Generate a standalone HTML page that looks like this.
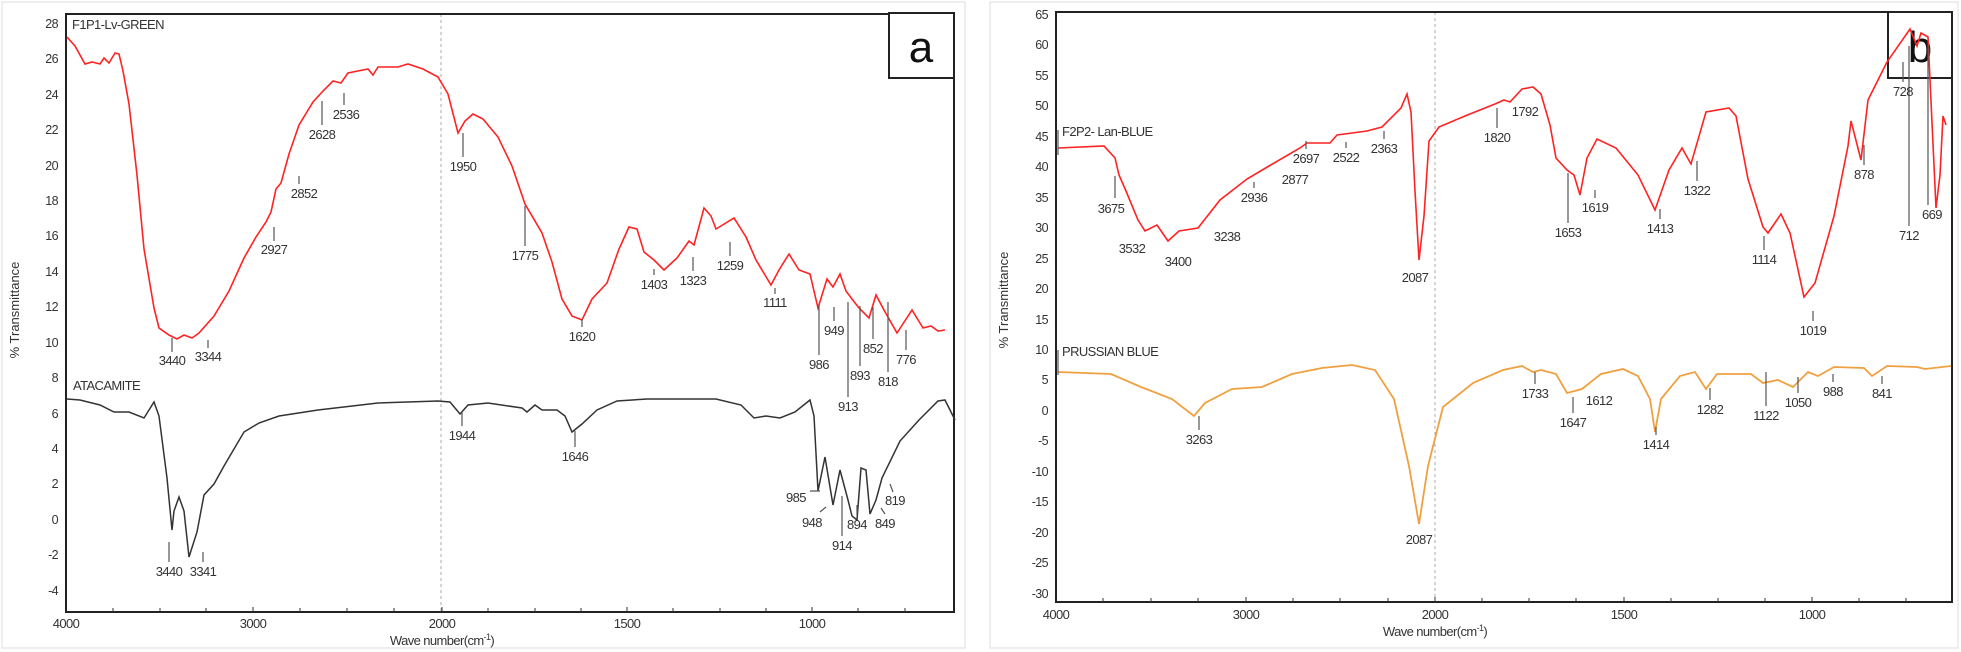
<!DOCTYPE html>
<html><head><meta charset="utf-8"><style>
html,body{margin:0;padding:0;background:#fff;}
svg{display:block;}
text{font-family:"Liberation Sans",sans-serif;fill:#333;}
.t{font-size:13px;letter-spacing:-0.6px;}
.k{font-size:12.5px;letter-spacing:-0.6px;text-anchor:end;}
.l{stroke:#555;stroke-width:1.2;fill:none;}
</style></head><body>
<svg width="1961" height="652" viewBox="0 0 1961 652" xmlns="http://www.w3.org/2000/svg">
<rect x="2" y="2" width="963" height="646" fill="none" stroke="#ddd"/>
<rect x="990" y="2" width="968" height="646" fill="none" stroke="#ddd"/>
<!-- Panel a -->
<line x1="441" y1="14" x2="441" y2="611" stroke="#aaa" stroke-dasharray="3,3"/>
<rect x="66" y="14" width="888" height="598" fill="none" stroke="#222" stroke-width="2"/>
<rect x="889" y="13" width="65" height="65" fill="#fff" stroke="#222" stroke-width="2"/>
<text x="921" y="62" style="font-size:44px;text-anchor:middle;fill:#111">a</text>
<g class="k">
<text x="58" y="28">28</text><text x="58" y="63">26</text><text x="58" y="99">24</text><text x="58" y="134">22</text><text x="58" y="170">20</text><text x="58" y="205">18</text><text x="58" y="240">16</text><text x="58" y="276">14</text><text x="58" y="311">12</text><text x="58" y="347">10</text><text x="58" y="382">8</text><text x="58" y="418">6</text><text x="58" y="453">4</text><text x="58" y="488">2</text><text x="58" y="524">0</text><text x="58" y="559">-2</text><text x="58" y="595">-4</text>
</g>
<text transform="translate(19,310) rotate(-90)" style="font-size:13px;text-anchor:middle">% Transmittance</text>
<g style="font-size:13px;text-anchor:middle;letter-spacing:-0.6px">
<text x="66" y="628">4000</text><text x="253" y="628">3000</text><text x="442" y="628">2000</text><text x="627" y="628">1500</text><text x="812" y="628">1000</text>
<text x="442" y="645">Wave number(cm<tspan dy="-5" font-size="9">-1</tspan><tspan dy="5">)</tspan></text>
</g>
<g stroke="#333">
<path d="M113,612v-4M160,612v-4M206,612v-4M253,612v-5M300,612v-4M347,612v-4M394,612v-4M442,612v-5M488,612v-4M535,612v-4M581,612v-4M627,612v-5M673,612v-4M720,612v-4M766,612v-4M812,612v-5M858,612v-4M905,612v-4"/>
</g>
<text class="t" x="72" y="29">F1P1-Lv-GREEN</text>
<text class="t" x="73" y="390">ATACAMITE</text>
<polyline fill="none" stroke="#f22" stroke-width="1.6" points="67,37 75,46 85,64 92,62 100,64 104,58 109,63 115,53 119,54 123,71 129,104 137,175 144,249 154,308 159,328 169,335 177,339 184,335 192,338 199,333 214,316 229,291 244,258 256,237 266,222 271,212 276,189 281,183 289,154 299,125 313,102 323,91 333,81 341,83 348,73 368,69 373,75 378,67 398,67 408,64 423,69 438,77 448,94 458,133 465,121 473,114 483,119 498,137 512,166 525,204 542,233 552,262 562,299 572,316 582,320 592,299 607,283 619,249 629,227 637,229 644,252 654,260 664,270 677,258 689,241 694,245 704,208 711,216 716,229 734,218 746,237 756,260 771,285 779,270 789,254 799,270 810,274 818,308 827,279 833,287 840,274 846,291 852,299 859,308 869,318 876,295 884,310 897,333 912,310 923,328 931,326 938,331 945,330"/>
<polyline fill="none" stroke="#333" stroke-width="1.5" points="67,399 80,400 100,405 114,412 129,412 144,418 149,410 154,402 159,416 167,478 172,530 174,511 179,497 184,511 189,557 197,532 204,495 214,484 224,466 244,432 259,423 279,416 318,410 378,403 438,401 450,402 460,414 468,405 488,403 522,408 527,412 535,405 542,410 557,410 565,416 572,432 582,424 597,410 617,401 647,399 716,399 741,405 754,418 766,416 780,418 795,412 810,400 814,416 818,491 825,457 833,505 840,470 848,500 852,516 857,520 861,468 866,470 870,514 876,500 882,478 900,441 919,420 938,401 945,400 955,420"/>
<g class="l">
<path d="M172,352v-14M208,348v-8M274,241v-14M299,184v-8M322,125v-24M344,105v-12M463,157v-24M525,246v-40M582,327v-8M654,275v-6M693,271v-14M730,256v-14M775,294v-6M819,355v-50M834,321v-14M860,366v-60M848,397v-95M873,339v-32M888,372v-70M906,350v-20M169,562v-20M203,562v-10M462,426v-14M575,447v-16M810,491h10M820,512l6,-5M842,536v-40M857,515v-10M885,514l-4,-6M893,492l-3,-8"/>
</g>
<g class="t" style="text-anchor:middle">
<text x="172" y="365">3440</text><text x="208" y="361">3344</text><text x="274" y="254">2927</text><text x="304" y="198">2852</text><text x="322" y="139">2628</text><text x="346" y="119">2536</text><text x="463" y="171">1950</text><text x="525" y="260">1775</text><text x="582" y="341">1620</text><text x="654" y="289">1403</text><text x="693" y="285">1323</text><text x="730" y="270">1259</text><text x="775" y="307">1111</text>
<text x="819" y="369">986</text><text x="834" y="335">949</text><text x="860" y="380">893</text><text x="848" y="411">913</text><text x="873" y="353">852</text><text x="888" y="386">818</text><text x="906" y="364">776</text>
<text x="169" y="576">3440</text><text x="203" y="576">3341</text><text x="462" y="440">1944</text><text x="575" y="461">1646</text>
<text x="796" y="502">985</text><text x="812" y="527">948</text><text x="842" y="550">914</text><text x="857" y="529">894</text><text x="885" y="528">849</text><text x="895" y="505">819</text>
</g>

<!-- Panel b -->
<line x1="1435" y1="12" x2="1435" y2="601" stroke="#aaa" stroke-dasharray="3,3"/>
<rect x="1056" y="12" width="896" height="590" fill="none" stroke="#222" stroke-width="2"/>
<rect x="1888" y="12" width="64" height="66" fill="none" stroke="#222" stroke-width="2"/>
<text x="1920" y="62" style="font-size:44px;text-anchor:middle;fill:#111">b</text>
<g class="k">
<text x="1048" y="19">65</text><text x="1048" y="49">60</text><text x="1048" y="80">55</text><text x="1048" y="110">50</text><text x="1048" y="141">45</text><text x="1048" y="171">40</text><text x="1048" y="202">35</text><text x="1048" y="232">30</text><text x="1048" y="263">25</text><text x="1048" y="293">20</text><text x="1048" y="324">15</text><text x="1048" y="354">10</text><text x="1048" y="384">5</text><text x="1048" y="415">0</text><text x="1048" y="445">-5</text><text x="1048" y="476">-10</text><text x="1048" y="506">-15</text><text x="1048" y="537">-20</text><text x="1048" y="567">-25</text><text x="1048" y="598">-30</text>
</g>
<text transform="translate(1008,300) rotate(-90)" style="font-size:13px;text-anchor:middle">% Transmittance</text>
<g style="font-size:13px;text-anchor:middle;letter-spacing:-0.6px">
<text x="1056" y="619">4000</text><text x="1246" y="619">3000</text><text x="1435" y="619">2000</text><text x="1624" y="619">1500</text><text x="1812" y="619">1000</text>
<text x="1435" y="636">Wave number(cm<tspan dy="-5" font-size="9">-1</tspan><tspan dy="5">)</tspan></text>
</g>
<g stroke="#333">
<path d="M1103,602v-4M1151,602v-4M1198,602v-4M1246,602v-5M1293,602v-4M1340,602v-4M1388,602v-4M1435,602v-5M1482,602v-4M1529,602v-4M1576,602v-4M1624,602v-5M1671,602v-4M1718,602v-4M1765,602v-4M1812,602v-5M1859,602v-4M1906,602v-4"/>
</g>
<text class="t" x="1062" y="136">F2P2- Lan-BLUE</text>
<text class="t" x="1062" y="356">PRUSSIAN BLUE</text>
<polyline fill="none" stroke="#f22" stroke-width="1.6" points="1058,148 1104,146 1115,158 1119,175 1126,191 1138,220 1145,231 1157,225 1168,241 1179,231 1198,228 1220,200 1247,179 1269,166 1300,148 1307,143 1330,143 1337,135 1367,131 1382,127 1401,108 1407,94 1411,112 1415,191 1419,260 1424,216 1429,141 1439,127 1465,116 1495,104 1504,100 1510,102 1522,89 1533,87 1541,94 1550,125 1556,158 1567,170 1574,175 1580,195 1587,158 1597,139 1616,148 1638,175 1655,210 1669,170 1682,148 1691,164 1706,112 1729,108 1736,116 1748,179 1763,227 1768,233 1781,214 1790,233 1804,297 1815,283 1834,216 1848,146 1851,121 1861,160 1868,100 1887,62 1910,29 1917,46 1921,33 1928,37 1936,208 1940,175 1943,116 1946,125"/>
<polyline fill="none" stroke="#f0a040" stroke-width="1.8" points="1058,372 1111,374 1141,387 1172,399 1194,416 1205,403 1232,389 1262,387 1292,374 1322,368 1352,365 1375,370 1394,399 1409,466 1419,524 1428,466 1443,407 1473,383 1503,370 1522,366 1533,372 1541,370 1556,374 1567,393 1582,389 1601,374 1623,369 1638,376 1650,399 1655,432 1661,399 1680,376 1695,372 1706,389 1717,374 1751,374 1763,383 1778,380 1793,387 1808,372 1818,376 1834,367 1864,368 1872,376 1887,366 1917,367 1925,369 1951,366"/>
<g class="l">
<path d="M1058,130v25M1058,350v25M1115,198v-22M1199,430v-14M1535,384v-12M1573,413v-16M1656,435v-8M1710,400v-12M1766,406v-34M1798,393v-16M1833,382v-8M1882,384v-8M1568,223v-50M1595,198v-8M1660,219v-10M1697,181v-20M1764,250v-14M1813,321v-10M1864,165v-20M1903,82v-20M1909,226v-180M1928,205v-160M1497,128v-20M1346,148v-6M1384,139v-8M1306,149v-8M1254,188v-6"/>
</g>
<g class="t" style="text-anchor:middle">
<text x="1111" y="213">3675</text><text x="1132" y="253">3532</text><text x="1178" y="266">3400</text><text x="1227" y="241">3238</text><text x="1254" y="202">2936</text><text x="1295" y="184">2877</text><text x="1306" y="163">2697</text><text x="1346" y="162">2522</text><text x="1384" y="153">2363</text><text x="1415" y="282">2087</text><text x="1497" y="142">1820</text><text x="1525" y="116">1792</text><text x="1568" y="237">1653</text><text x="1595" y="212">1619</text><text x="1660" y="233">1413</text><text x="1697" y="195">1322</text><text x="1764" y="264">1114</text><text x="1813" y="335">1019</text><text x="1864" y="179">878</text><text x="1903" y="96">728</text><text x="1909" y="240">712</text><text x="1932" y="219">669</text>
<text x="1199" y="444">3263</text><text x="1419" y="544">2087</text><text x="1535" y="398">1733</text><text x="1573" y="427">1647</text><text x="1599" y="405">1612</text><text x="1656" y="449">1414</text><text x="1710" y="414">1282</text><text x="1766" y="420">1122</text><text x="1798" y="407">1050</text><text x="1833" y="396">988</text><text x="1882" y="398">841</text>
</g>
</svg>
</body></html>
